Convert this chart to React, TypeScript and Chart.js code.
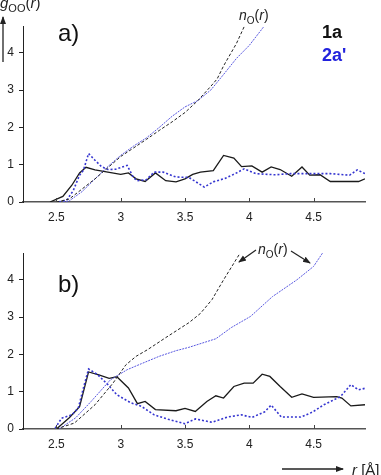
import React, { useEffect, useRef } from "react";
import { Chart, registerables } from "chart.js";
Chart.register(...registerables);

const xTicks = [2.5, 3, 3.5, 4, 4.5];
const yTicks = [0, 1, 2, 3, 4];

// Panel a) g_OO(r), 1a (black solid)
const rTopG1 = [2.45, 2.55, 2.62, 2.68, 2.73, 2.8, 2.9, 3.0, 3.06, 3.12, 3.19, 3.27, 3.35, 3.43, 3.5, 3.56, 3.62, 3.72, 3.8, 3.88, 3.94, 4.02, 4.1, 4.17, 4.24, 4.33, 4.41, 4.47, 4.55, 4.63, 4.71, 4.85, 4.9];
const gTopG1 = [0, 0.15, 0.45, 0.78, 0.93, 0.86, 0.8, 0.74, 0.78, 0.62, 0.55, 0.78, 0.57, 0.54, 0.62, 0.74, 0.8, 0.84, 1.25, 1.18, 0.95, 0.97, 0.8, 0.94, 0.87, 0.69, 0.94, 0.72, 0.73, 0.55, 0.55, 0.55, 0.62];
// Panel a) g_OO(r), 2a' (blue dotted)
const rTopG2 = [2.52, 2.58, 2.63, 2.68, 2.71, 2.75, 2.8, 2.85, 2.9, 2.96, 3.05, 3.1, 3.13, 3.2, 3.26, 3.33, 3.43, 3.53, 3.65, 3.72, 3.81, 3.89, 3.96, 4.05, 4.2, 4.32, 4.47, 4.63, 4.78, 4.84, 4.9];
const gTopG2 = [0, 0.05, 0.3, 0.72, 0.85, 1.3, 1.12, 0.95, 0.87, 0.88, 0.98, 0.65, 0.57, 0.6, 0.8, 0.8, 0.67, 0.66, 0.4, 0.54, 0.63, 0.76, 0.89, 0.76, 0.73, 0.76, 0.76, 0.76, 0.72, 0.86, 0.76];
// Panel a) n_O(r)
const rTopN1 = [2.5, 2.6, 2.7, 2.8, 2.9, 3.0, 3.1, 3.2, 3.3, 3.4, 3.5, 3.6, 3.7, 3.75, 3.8, 3.9, 3.96];
const nTopN1 = [0, 0.08, 0.35, 0.62, 0.92, 1.22, 1.45, 1.68, 1.92, 2.15, 2.4, 2.72, 3.1, 3.3, 3.65, 4.25, 4.7];
const rTopN2 = [2.55, 2.6, 2.7, 2.8, 2.9, 3.0, 3.1, 3.2, 3.3, 3.4, 3.5, 3.6, 3.7, 3.8, 3.9, 4.0, 4.11];
const nTopN2 = [0, 0.03, 0.28, 0.62, 0.95, 1.25, 1.5, 1.72, 2.0, 2.3, 2.55, 2.72, 3.0, 3.42, 3.85, 4.2, 4.69];

// Panel b)
const rBotG1 = [2.5, 2.6, 2.68, 2.75, 2.83, 2.91, 2.97, 3.06, 3.13, 3.19, 3.27, 3.43, 3.5, 3.58, 3.67, 3.74, 3.8, 3.88, 3.96, 4.03, 4.1, 4.16, 4.24, 4.33, 4.41, 4.5, 4.68, 4.72, 4.79, 4.9];
const gBotG1 = [0, 0.3, 0.6, 1.53, 1.45, 1.36, 1.4, 1.1, 0.68, 0.74, 0.52, 0.49, 0.55, 0.47, 0.74, 0.89, 0.83, 1.14, 1.23, 1.23, 1.47, 1.41, 1.14, 0.85, 0.94, 0.85, 0.87, 0.83, 0.62, 0.65];
const rBotG2 = [2.49, 2.54, 2.62, 2.67, 2.71, 2.75, 2.82, 2.9, 2.97, 3.08, 3.16, 3.26, 3.37, 3.5, 3.58, 3.71, 3.83, 3.94, 4.02, 4.12, 4.17, 4.2, 4.25, 4.4, 4.49, 4.58, 4.71, 4.79, 4.85, 4.91];
const gBotG2 = [0.02, 0.29, 0.38, 0.56, 1.1, 1.61, 1.46, 1.19, 0.92, 0.7, 0.61, 0.38, 0.26, 0.14, 0.27, 0.18, 0.32, 0.38, 0.31, 0.46, 0.64, 0.52, 0.32, 0.32, 0.45, 0.65, 0.87, 1.19, 1.05, 1.1];
const rBotN1 = [2.5, 2.64, 2.8, 2.94, 3.04, 3.12, 3.21, 3.35, 3.53, 3.62, 3.71, 3.8, 3.92];
const nBotN1 = [0, 0.16, 0.65, 1.23, 1.72, 1.95, 2.13, 2.45, 2.85, 3.1, 3.47, 4.0, 4.67];
const rBotN2 = [2.52, 2.65, 2.77, 2.92, 3.05, 3.16, 3.3, 3.43, 3.53, 3.74, 3.86, 4.01, 4.18, 4.37, 4.5, 4.57];
const nBotN2 = [0, 0.3, 0.74, 1.32, 1.59, 1.75, 1.95, 2.1, 2.19, 2.42, 2.72, 3.02, 3.55, 4.0, 4.36, 4.72];

const pts = (r: number[], v: number[]) => r.map((x, i) => ({ x, y: v[i] }));

const FONT = "'Liberation Sans', Arial, sans-serif";

const innerTicks = {
  id: "innerTicks",
  afterDraw(chart: any) {
    const ctx = chart.ctx;
    const xs = chart.scales.x;
    const yb = chart.chartArea.bottom;
    ctx.save();
    ctx.strokeStyle = "#444";
    ctx.lineWidth = 1;
    xTicks.forEach((v) => {
      const px = Math.round(xs.getPixelForValue(v)) + 0.5;
      ctx.beginPath();
      ctx.moveTo(px, yb);
      ctx.lineTo(px, yb - 4);
      ctx.stroke();
    });
    ctx.restore();
  },
};

function Panel(props: { top: number; height: number; padTop: number; xH: number; labelPad: number; sets: any[] }) {
  const ref = useRef<HTMLCanvasElement>(null);
  useEffect(() => {
    const chart = new Chart(ref.current as HTMLCanvasElement, {
      type: "line",
      data: { datasets: props.sets },
      options: {
        animation: false,
        responsive: false,
        devicePixelRatio: 1,
        layout: { padding: { top: props.padTop, right: 16, left: 0, bottom: 0 } },
        plugins: { legend: { display: false }, tooltip: { enabled: false } },
        elements: { point: { radius: 0 }, line: { tension: 0 } },
        scales: {
          x: {
            type: "linear",
            min: 2.24,
            max: 4.9,
            afterBuildTicks: (s: any) => { s.ticks = xTicks.map((v) => ({ value: v })); },
            afterFit: (s: any) => { s.height = props.xH; },
            grid: { display: true, drawOnChartArea: false, drawTicks: false },
            border: { display: true, color: "#555", width: 1.5 },
            ticks: { padding: props.labelPad, autoSkip: false, maxRotation: 0, color: "#222", font: { family: FONT, size: 12 }, callback: (v: any) => String(v) },
          },
          y: {
            type: "linear",
            min: 0,
            max: 4.72,
            afterBuildTicks: (s: any) => { s.ticks = yTicks.map((v) => ({ value: v })); },
            afterFit: (s: any) => { s.width = 23; },
            grid: { display: true, drawOnChartArea: false, drawTicks: true, tickLength: 4, color: "#222" },
            border: { display: true, color: "#222", width: 1 },
            ticks: { padding: 5, color: "#222", font: { family: FONT, size: 12 }, callback: (v: any) => String(v) },
          },
        },
      },
      plugins: [innerTicks],
    } as any);
    return () => chart.destroy();
  }, []);
  return <canvas ref={ref} width={381} height={props.height} style={{ position: "absolute", left: 0, top: props.top }} />;
}

const gBlack = { borderColor: "#1a1a1a", borderWidth: 1.3, fill: false, pointRadius: 0 };
const gBlue = { borderColor: "#3535d0", borderWidth: 1.6, borderDash: [2, 2], fill: false, pointRadius: 0 };
const nBlack = { borderColor: "#222", borderWidth: 1, borderDash: [3, 2], fill: false, pointRadius: 0 };
const nBlue = { borderColor: "#5858e0", borderWidth: 1, borderDash: [2, 1], fill: false, pointRadius: 0 };

export default function App() {
  useEffect(() => {
    document.body.style.margin = "0";
  }, []);
  const topSets = [
    { ...nBlack, data: pts(rTopN1, nTopN1) },
    { ...nBlue, data: pts(rTopN2, nTopN2) },
    { ...gBlue, data: pts(rTopG2, gTopG2) },
    { ...gBlack, data: pts(rTopG1, gTopG1) },
  ];
  const botSets = [
    { ...nBlack, data: pts(rBotN1, nBotN1) },
    { ...nBlue, data: pts(rBotN2, nBotN2) },
    { ...gBlue, data: pts(rBotG2, gBotG2) },
    { ...gBlack, data: pts(rBotG1, gBotG1) },
  ];
  const txt: React.CSSProperties = { position: "absolute", fontFamily: FONT, whiteSpace: "nowrap", lineHeight: 1 };
  return (
    <div style={{ position: "relative", width: 381, height: 475, overflow: "hidden", background: "#fff" }}>
      <Panel top={0} height={230} padTop={26} xH={28} labelPad={8} sets={topSets} />
      <Panel top={230} height={245} padTop={23} xH={46} labelPad={8} sets={botSets} />
      <svg width={381} height={475} style={{ position: "absolute", left: 0, top: 0 }}>
        <defs>
          <marker id="ah" markerWidth="8" markerHeight="8" refX="7" refY="4" orient="auto" markerUnits="userSpaceOnUse">
            <path d="M0,1 L8,4 L0,7 Z" fill="#222" />
          </marker>
        </defs>
        <line x1={3} y1={62} x2={3} y2={17} stroke="#222" strokeWidth={1.3} markerEnd="url(#ah)" />
        <line x1={256} y1={250} x2={239} y2={262} stroke="#222" strokeWidth={1.2} markerEnd="url(#ah)" />
        <line x1={291} y1={251} x2={310} y2={263} stroke="#222" strokeWidth={1.2} markerEnd="url(#ah)" />
        <line x1={282} y1={469} x2={343} y2={469} stroke="#222" strokeWidth={1.5} markerEnd="url(#ah)" />
      </svg>
      <div style={{ ...txt, left: 0, top: -5, fontSize: 15, color: "#222" }}>
        <i>g</i><sub style={{ fontSize: 11 }}>OO</sub>(<i>r</i>)
      </div>
      <div style={{ ...txt, left: 58, top: 21, fontSize: 24, color: "#111" }}>a)</div>
      <div style={{ ...txt, left: 322, top: 23, fontSize: 18, fontWeight: "bold", color: "#111" }}>1a</div>
      <div style={{ ...txt, left: 322, top: 46, fontSize: 18, fontWeight: "bold", color: "#2222dd" }}>2a'</div>
      <div style={{ ...txt, left: 239, top: 8, fontSize: 14, color: "#222" }}>
        <i>n</i><sub style={{ fontSize: 10 }}>O</sub>(<i>r</i>)
      </div>
      <div style={{ ...txt, left: 58, top: 272, fontSize: 24, color: "#111" }}>b)</div>
      <div style={{ ...txt, left: 258, top: 242, fontSize: 14, color: "#222" }}>
        <i>n</i><sub style={{ fontSize: 10 }}>O</sub>(<i>r</i>)
      </div>
      <div style={{ ...txt, left: 352, top: 462, fontSize: 15, color: "#222" }}>
        <i>r</i> [Å]
      </div>
    </div>
  );
}
